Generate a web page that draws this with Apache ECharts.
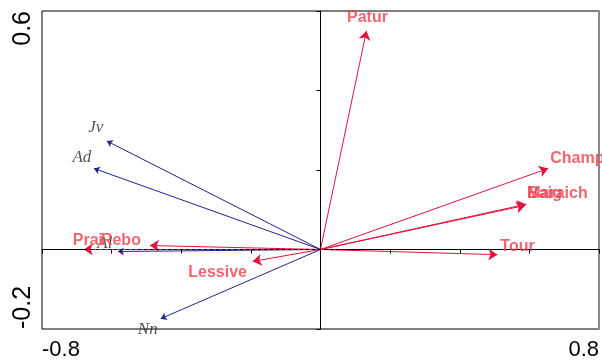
<!DOCTYPE html>
<html>
<head>
<meta charset="utf-8">
<script src="https://cdn.jsdelivr.net/npm/echarts@6/dist/echarts.min.js"></script>
<style>html,body{margin:0;padding:0;background:#fff;}#c{width:602px;height:361px;}</style>
</head>
<body>
<div id="c"></div>
<script>
// ---- data ----
const xTickLabels = ['-0.8', '0.8'];
const yTickLabels = ['-0.2', '0.6'];
const envNames = ['Patur', 'Champ', 'Baig', 'Maraich', 'Tour', 'Lessive', 'Rebo', 'Prai'];
const envX = [0.132, 0.654, 0.591, 0.588, 0.508, -0.195, -0.490, -0.680];
const envY = [0.550, 0.204, 0.114, 0.111, -0.013, -0.030, 0.010, 0.000];
const sppNames = ['Jv', 'Ad', 'Al', 'Nn'];
const sppX = [-0.614, -0.651, -0.582, -0.459];
const sppY = [0.273, 0.204, -0.005, -0.174];

// ---- styling ----
const RED = '#e0143c', RED_TXT = '#e8404c', BLUE = '#23238c', SPP_TXT = '#2a2a2a';
const envLabelPlace = {
  Patur: [1, -13, 'center'], Champ: [2, -10, 'left'], Baig: [1, -11, 'left'],
  Maraich: [2, -12, 'left'], Tour: [3, -8, 'left'], Lessive: [-35, 11, 'center'],
  Rebo: [-9, -5, 'right'], Prai: [-11, -9, 'left']
};
const sppLabelPlace = { Jv: [-11, -13], Ad: [-12, -11], Al: [-13, -8], Nn: [-13, 11] };

function fmtTick(list) {
  return v => { const s = (Math.abs(v) < 1e-9 ? 0 : v).toFixed(1); return list.indexOf(s) >= 0 ? s : ''; };
}

const envArrows = envNames.map((n, i) => ({ name: n, coords: [[0, 0], [envX[i], envY[i]]] }));
const sppArrows = sppNames.map((n, i) => ({ name: n, coords: [[0, 0], [sppX[i], sppY[i]]] }));
const envLabels = envNames.map((n, i) => {
  const p = envLabelPlace[n];
  return { name: n, value: [envX[i], envY[i]], label: { offset: [p[0], p[1]], align: p[2] } };
});
const sppLabels = sppNames.map((n, i) => {
  const p = sppLabelPlace[n];
  return { name: n, value: [sppX[i], sppY[i]], label: { offset: p, align: 'center' } };
});

const chart = echarts.init(document.getElementById('c'), null, { renderer: 'canvas' });
chart.setOption({
  animation: false,
  backgroundColor: '#ffffff',
  grid: { left: 42, right: 2, top: 11, bottom: 32, show: true, borderColor: '#000', borderWidth: 1 },
  xAxis: {
    type: 'value', min: -0.8, max: 0.8, interval: 0.2,
    axisLine: { show: true, lineStyle: { color: '#000', width: 1 } },
    axisTick: { show: true, length: 4, lineStyle: { color: '#000' } },
    splitLine: { show: false },
    axisLabel: {
      formatter: fmtTick(xTickLabels), fontSize: 22, color: '#000',
      fontFamily: 'Liberation Sans, Arial, sans-serif', margin: 10,
      alignMinLabel: 'left', alignMaxLabel: 'right', showMinLabel: true, showMaxLabel: true
    }
  },
  yAxis: [{
    type: 'value', min: -0.2, max: 0.6, interval: 0.2,
    axisLine: { show: true, lineStyle: { color: '#000', width: 1 } },
    axisTick: { show: true, length: 4, lineStyle: { color: '#000' } },
    splitLine: { show: false },
    axisLabel: {
      formatter: fmtTick(yTickLabels), fontSize: 25, color: '#000', rotate: 90,
      fontFamily: 'Liberation Sans, Arial, sans-serif', margin: 6,
      alignMinLabel: 'left', alignMaxLabel: 'right', showMinLabel: true, showMaxLabel: true
    }
  }, {
    type: 'value', min: -0.2, max: 0.6, position: 'right',
    axisLine: { show: true, lineStyle: { color: '#8a8a8a', width: 2 } },
    axisTick: { show: false }, axisLabel: { show: false }, splitLine: { show: false }
  }],
  series: [
    {
      type: 'scatter', name: 'zero', data: [], silent: true, z: 1,
      markLine: {
        silent: true, symbol: ['none', 'none'], label: { show: false },
        lineStyle: { color: '#000', type: [3, 3], width: 1 },
        data: [{ xAxis: 0 }, { yAxis: 0 }]
      }
    },
    {
      type: 'lines', coordinateSystem: 'cartesian2d', name: 'species', z: 2,
      symbol: ['none', 'arrow'], symbolSize: 6,
      lineStyle: { color: BLUE, width: 1, opacity: 1 },
      data: sppArrows
    },
    {
      type: 'lines', coordinateSystem: 'cartesian2d', name: 'env', z: 3,
      symbol: ['none', 'arrow'], symbolSize: 9,
      lineStyle: { color: RED, width: 1, opacity: 1 },
      data: envArrows
    },
    {
      type: 'scatter', name: 'sppLab', symbolSize: 0, z: 4, silent: true,
      label: {
        show: true, position: 'inside', formatter: p => p.name, color: SPP_TXT,
        fontFamily: 'Liberation Serif, Times New Roman, serif', fontStyle: 'italic', fontSize: 17
      },
      data: sppLabels
    },
    {
      type: 'scatter', name: 'envLab', symbolSize: 0, z: 5, silent: true,
      label: {
        show: true, position: 'inside', formatter: p => p.name, color: RED_TXT,
        fontFamily: 'Liberation Sans, Arial, sans-serif', fontWeight: 'bold', fontSize: 16
      },
      data: envLabels
    }
  ]
});
</script>
</body>
</html>
